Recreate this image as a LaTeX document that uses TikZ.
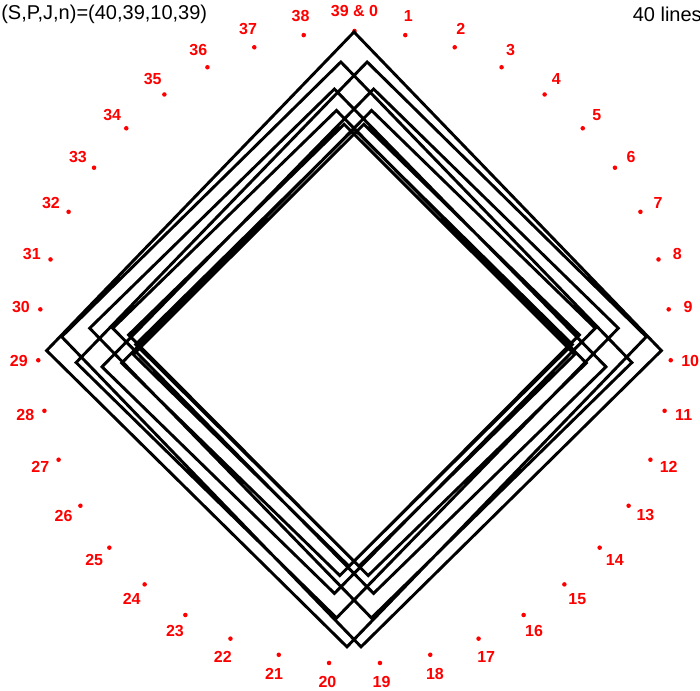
\documentclass[tikz,border=0pt]{standalone}
\usepackage{fontspec}
\setmainfont{Liberation Sans}
\tikzset{
  chord/.style  = {line width=2.2pt, line join=miter, black},
  pdot/.style   = {circle, fill=red, inner sep=0pt, minimum size=3.4pt},
  plabel/.style = {red, inner sep=0pt, font=\bfseries\fontsize{12}{14}\selectfont},
  head/.style   = {inner sep=0pt, font=\fontsize{15}{17}\selectfont},
}

\begin{document}
\begin{tikzpicture}[x=0.75pt,y=-0.75pt]
  \useasboundingbox (0,0) rectangle (700,691);
  % the 39 points round the circle
  \foreach \p in {0,...,38}{
    \pgfmathsetmacro{\a}{360*\p/39}
    \node[pdot] (p\p) at ({354.5+316.5*sin(\a)},{347.5-316.5*cos(\a)}) {};
    \node[plabel] (l\p) at ({354.5+336*sin(\a)},{347.5-336*cos(\a)})
      {\ifnum\p=0 39 \& 0\else\p\fi};
  }
  \node[head,anchor=base west] (spjn) at (1,20) {(S,P,J,n)=(40,39,10,39)};
  \node[head,anchor=base east] (nlines) at (702,22) {40 lines};
  % corners of the 40 lines: a quarter turn each, slowly closing in
  \foreach \k in {0,...,39}{
    \pgfmathsetmacro{\a}{90*\k}
    \pgfmathsetmacro{\r}{315-97*sin(4.5*\k)}
    \pgfmathsetmacro{\l}{(-1)^(\k+1)*23*sin(9*\k)*(1-0.3*sin(4.5*\k)^2)}
    \coordinate (v\k) at ({354+\r*sin(\a)+\l*cos(\a)},{347-\r*cos(\a)+\l*sin(\a)});
  }
  \draw[chord] (v0) \foreach \k in {1,...,39}{ -- (v\k)} -- cycle;
\end{tikzpicture}
\end{document}
